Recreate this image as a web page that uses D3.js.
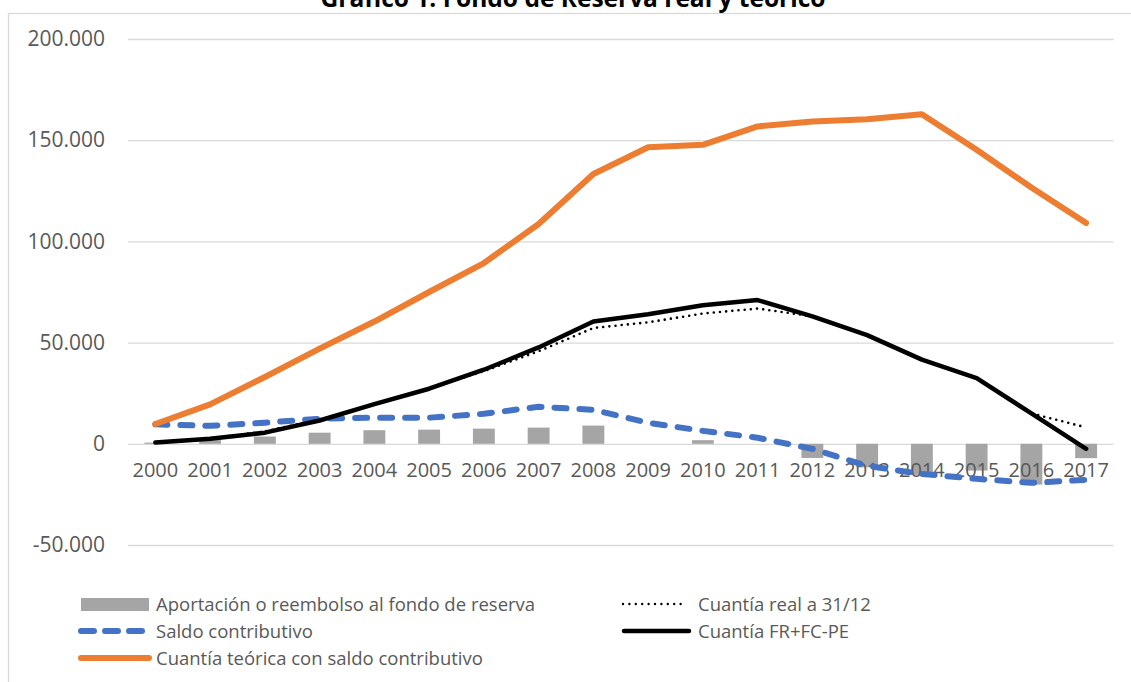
<!DOCTYPE html>
<html>
<head>
<meta charset="utf-8">
<script src="https://cdn.jsdelivr.net/npm/d3@7"></script>
<style>
    body { margin: 0; background: #fff; }
    svg { display: block; font-family: "Open Sans", sans-serif; }
</style>
</head>
<body>
<script>
// categories and series
var years = ["2000", "2001", "2002", "2003", "2004", "2005", "2006", "2007", "2008",
    "2009", "2010", "2011", "2012", "2013", "2014", "2015", "2016", "2017"];
var aportacion = [601, 1803, 3575, 5494, 6720, 7000, 7500, 8000, 9000,
    0, 1788, 0, -7003, -11648, -15300, -13250, -20136, -7100];
var cuantiaReal = [601, 2493, 6168, 12024, 19330, 27192, 35879, 45716, 57223,
    60022, 64375, 66815, 63008, 53744, 41634, 32481, 15020, 8095];
var saldo = [9600, 8900, 10400, 12400, 12900, 12900, 14800, 18300, 16800,
    10400, 6400, 3000, -2500, -10900, -14900, -17300, -19300, -17800];
var cuantiaFR = [600, 2500, 5500, 11500, 19600, 27200, 36600, 47600, 60400,
    64000, 68500, 71000, 63000, 53700, 41600, 32500, 15000, -2500];
var teorica = [9800, 19500, 33000, 47000, 60400, 75000, 89300, 108600, 133300,
    146500, 147700, 156800, 159200, 160300, 162800, 145300, 126600, 109100];
var yTicks = [-50000, 0, 50000, 100000, 150000, 200000];

var width = 1131, height = 682;
var left = 128, right = 1113.5;

var svg = d3.select("body")
    .append("svg")
    .attr("width", width)
    .attr("height", height);

// chart border
svg.append("rect")
    .attr("x", 8.5).attr("y", 13.5)
    .attr("width", 1300).attr("height", 800)
    .attr("fill", "none")
    .attr("stroke", "#d9d9d9")
    .attr("stroke-width", 1.3);

svg.append("text")
    .attr("x", 573).attr("y", 7)
    .attr("text-anchor", "middle")
    .attr("font-weight", "bold")
    .attr("font-size", 24.5)
    .attr("fill", "#000")
    .text("Gráfico 1. Fondo de Reserva real y teórico");

var x = d3.scaleBand().domain(years).range([left, right]);
var y = d3.scaleLinear().domain([-50000, 200000]).range([545, 39]);

var loc = d3.formatLocale({ decimal: ",", thousands: ".", grouping: [3], currency: ["", "€"], minus: "-" });
var fmt = loc.format(",");

// gridlines + y labels
var yAxis = d3.axisLeft(y).tickValues(yTicks)
    .tickSize(-(right - left))
    .tickPadding(23)
    .tickFormat(function (d) { return d === 0 ? "0" : fmt(d); });

var gy = svg.append("g")
    .attr("transform", "translate(" + left + ",0)")
    .call(yAxis);
gy.select(".domain").remove();
gy.selectAll(".tick line").attr("stroke", "#d9d9d9").attr("stroke-width", 1.3);
gy.selectAll(".tick text")
    .attr("fill", "#595959")
    .attr("font-size", 21)
    .attr("font-family", "Open Sans, sans-serif");

// bars
svg.append("g")
    .selectAll("rect")
    .data(aportacion)
    .enter().append("rect")
    .attr("x", function (d, i) { return x(years[i]) + x.bandwidth() * 0.3; })
    .attr("width", x.bandwidth() * 0.4)
    .attr("y", function (d) { return y(Math.max(0, d)); })
    .attr("height", function (d) { return Math.abs(y(d) - y(0)); })
    .attr("fill", "#a5a5a5");

// x labels
var xAxis = d3.axisBottom(x).tickSize(0).tickPadding(0);
var gx = svg.append("g")
    .attr("transform", "translate(0,463)")
    .call(xAxis);
gx.select(".domain").remove();
gx.selectAll(".tick text")
    .attr("fill", "#595959")
    .attr("font-size", 20)
    .attr("font-family", "Open Sans, sans-serif");

var line = d3.line()
    .x(function (d, i) { return x(years[i]) + x.bandwidth() / 2; })
    .y(function (d) { return y(d); });

var series = [
    { data: cuantiaReal, color: "#000", w: 2.6, dash: "0,6.2" },
    { data: saldo, color: "#4472c4", w: 6, dash: "12,13" },
    { data: cuantiaFR, color: "#000", w: 4.5, dash: null },
    { data: teorica, color: "#ed7d31", w: 6, dash: null }
];

series.forEach(function (s) {
    svg.append("path")
        .datum(s.data)
        .attr("d", line)
        .attr("fill", "none")
        .attr("stroke", s.color)
        .attr("stroke-width", s.w)
        .attr("stroke-linecap", "round")
        .attr("stroke-linejoin", "round")
        .attr("stroke-dasharray", s.dash);
});

// legend
var legend = svg.append("g").attr("font-size", 18.5).attr("fill", "#595959");

function legendText(tx, ty, label) {
    legend.append("text")
        .attr("x", tx).attr("y", ty + 6.5)
        .text(label);
}

legend.append("rect")
    .attr("x", 81).attr("y", 598).attr("width", 68).attr("height", 13)
    .attr("fill", "#a5a5a5");
legendText(156, 604, "Aportación o reembolso al fondo de reserva");

legend.append("line")
    .attr("x1", 81).attr("x2", 146).attr("y1", 631).attr("y2", 631)
    .attr("stroke", "#4472c4").attr("stroke-width", 6)
    .attr("stroke-linecap", "round").attr("stroke-dasharray", "13,11");
legendText(156, 631, "Saldo contributivo");

legend.append("line")
    .attr("x1", 81).attr("x2", 149).attr("y1", 658).attr("y2", 658)
    .attr("stroke", "#ed7d31").attr("stroke-width", 6)
    .attr("stroke-linecap", "round");
legendText(156, 658, "Cuantía teórica con saldo contributivo");

legend.append("line")
    .attr("x1", 623).attr("x2", 687).attr("y1", 604).attr("y2", 604)
    .attr("stroke", "#000").attr("stroke-width", 2.4)
    .attr("stroke-linecap", "round").attr("stroke-dasharray", "0,6.4");
legendText(698, 604, "Cuantía real a 31/12");

legend.append("line")
    .attr("x1", 624).attr("x2", 689).attr("y1", 631).attr("y2", 631)
    .attr("stroke", "#000").attr("stroke-width", 4.5)
    .attr("stroke-linecap", "round");
legendText(698, 631, "Cuantía FR+FC-PE");
</script>
</body>
</html>
